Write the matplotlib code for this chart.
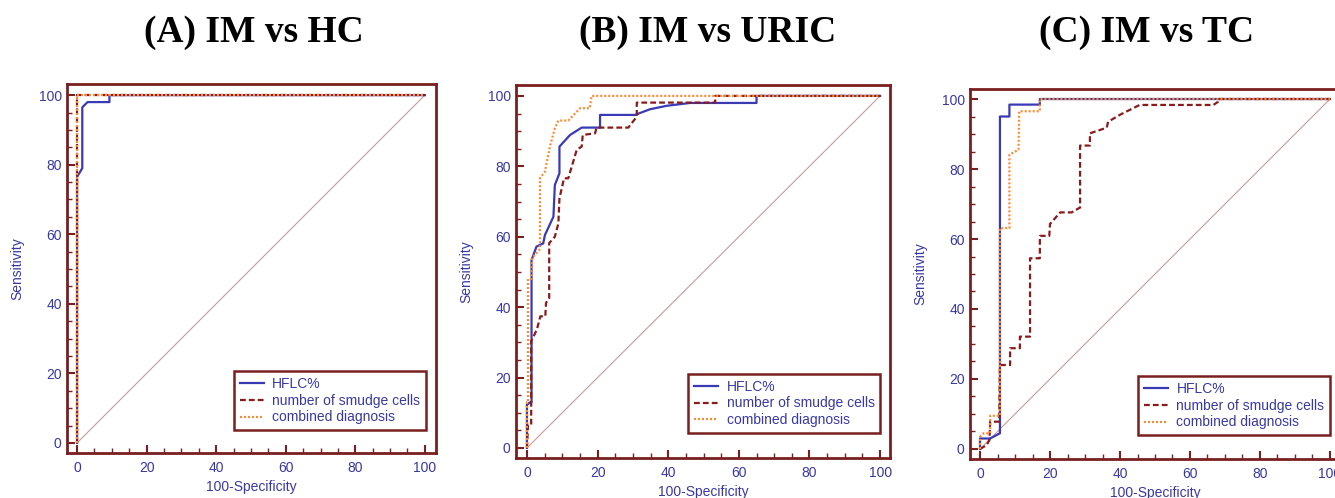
import matplotlib
matplotlib.use("Agg")
import matplotlib.pyplot as plt
from matplotlib.ticker import MultipleLocator

# ---------------- data ----------------
titles = ["(A) IM vs HC", "(B) IM vs URIC", "(C) IM vs TC"]
series_names = ["HFLC%", "number of smudge cells", "combined diagnosis"]

A_hflc_x = [0, 0, 1.5, 1.5, 3, 9.3, 9.3, 100]
A_hflc_y = [0, 76.5, 79, 96.5, 98, 98, 100, 100]
A_smudge_x = [0, 0, 100]
A_smudge_y = [0, 100, 100]
A_comb_x = [0, 0, 100]
A_comb_y = [0, 100, 100]

B_hflc_x = [0, 0, 1, 1.3, 1.3, 2.7, 4.6, 5.1, 7.5, 7.9, 9.2, 9.2, 12.2, 15.5, 20.7, 20.7, 30.6, 34.8, 39.6, 46.2, 65, 65, 100]
B_hflc_y = [0, 12.3, 13, 13, 53.4, 57.2, 58.1, 60.5, 65.7, 74.7, 78, 85.6, 88.9, 91, 91, 94.6, 94.6, 96.2, 97.2, 98, 98, 100, 100]
B_smudge_x = [0, 0.3, 1.2, 1.2, 2.8, 3.8, 5.2, 5.4, 6.3, 6.3, 7.9, 8.9, 9.2, 10.5, 11.7, 14.1, 15.5, 15.8, 19.3, 19.7, 28.7, 31.1, 31.1, 53.3, 53.3, 100]
B_smudge_y = [0, 6.6, 6.6, 30.3, 33.6, 37.4, 37.4, 41.2, 42.6, 58.2, 60, 63.8, 70.9, 76.6, 76.6, 84.7, 85.6, 88.9, 89.4, 91, 91, 94.1, 98.1, 98.1, 100, 100]
B_comb_x = [0, 0, 0.3, 0.3, 1.2, 1.5, 3.7, 3.7, 5.1, 6.5, 7.9, 8.9, 11.7, 14.1, 15, 17.8, 18.3, 100]
B_comb_y = [0, 13, 13, 48, 48, 54, 56.5, 76.6, 78.5, 85.6, 90.8, 93, 93, 95.5, 96.5, 96.5, 100, 100]

C_hflc_x = [0, 0, 2.9, 5.7, 5.7, 8.4, 8.4, 17.1, 17.1, 100]
C_hflc_y = [0, 3, 3, 4.5, 95, 95, 98.4, 98.4, 100, 100]
C_smudge_x = [0, 1.9, 2.7, 2.9, 5.5, 5.7, 8.6, 8.6, 11.4, 11.4, 14.3, 14.3, 17.1, 17.1, 19.8, 20, 22.9, 26.2, 28.6, 28.6, 31.4, 31.4, 36.2, 36.6, 40, 45.6, 66.7, 68, 68, 100]
C_smudge_y = [0, 1.1, 2.6, 7.8, 7.8, 24, 24, 28.8, 28.8, 32.1, 32.1, 54.5, 54.5, 60.9, 60.9, 64.3, 67.6, 67.6, 69, 86.7, 86.7, 90.2, 91.8, 93.5, 95.5, 98.3, 98.3, 99.2, 100, 100]
C_comb_x = [0, 0, 1, 2.9, 2.9, 5.7, 5.7, 8.4, 8.4, 11, 11.2, 17.1, 17.1, 100]
C_comb_y = [0, 3.5, 4.5, 4.5, 9.5, 9.5, 63.1, 63.1, 84.1, 85.5, 96.5, 96.5, 100, 100]

xticks = [0, 20, 40, 60, 80, 100]
yticks = [0, 20, 40, 60, 80, 100]

# ---------------- style ----------------
W, H = 1335, 498
FRAME = "#7a1f1f"
TXT = "#3838a4"
C_HFLC = "#3a3ab4"
C_SM = "#8b1a1a"
C_CB = "#ff8a2e"
DIAG = "#cc9a9a"
plt.rcParams["font.family"] = ["Liberation Sans", "DejaVu Sans"]

fig = plt.figure(figsize=(W / 100, H / 100), dpi=100)

panels = [
    dict(box=(67, 84, 436, 453), xlim=(-2.9, 103.2), ylim=(-2.9, 103.2), leg=(100.3, 3.7),
         data=[(A_hflc_x, A_hflc_y), (A_smudge_x, A_smudge_y), (A_comb_x, A_comb_y)], tx=254),
    dict(box=(516, 85, 890, 458), xlim=(-3.1, 102.8), ylim=(-2.85, 103.1), leg=(100, 4.3),
         data=[(B_hflc_x, B_hflc_y), (B_smudge_x, B_smudge_y), (B_comb_x, B_comb_y)], tx=708),
    dict(box=(970, 89, 1340, 459), xlim=(-2.86, 102.86), ylim=(-2.86, 102.86), leg=(100, 4.0),
         data=[(C_hflc_x, C_hflc_y), (C_smudge_x, C_smudge_y), (C_comb_x, C_comb_y)], tx=1147),
]

for i, p in enumerate(panels):
    l, t, r, b = p["box"]
    ax = fig.add_axes([l / W, (H - b) / H, (r - l) / W, (b - t) / H])
    ax.set_xlim(*p["xlim"])
    ax.set_ylim(*p["ylim"])
    ax.plot([0, 100], [0, 100], color=DIAG, lw=0.8, zorder=1)
    (hx, hy), (sx, sy), (cx, cy) = p["data"]
    ax.plot(hx, hy, color=C_HFLC, lw=1.6, label=series_names[0], zorder=3)
    ax.plot(sx, sy, color=C_SM, lw=1.6, ls=(0, (2.6, 1.4)), label=series_names[1], zorder=4)
    ax.plot(cx, cy, color=C_CB, lw=1.6, ls=(0, (0.9, 0.9)), label=series_names[2], zorder=5)

    for s in ax.spines.values():
        s.set_color(FRAME)
        s.set_linewidth(2.0)
    ax.set_xticks(xticks)
    ax.set_yticks(yticks)
    ax.xaxis.set_minor_locator(MultipleLocator(5))
    ax.yaxis.set_minor_locator(MultipleLocator(5))
    ax.tick_params(which="major", direction="in", length=5.5, width=1.5, color=FRAME,
                   labelcolor=TXT, labelsize=10)
    ax.tick_params(which="minor", direction="in", length=3.3, width=1.0, color=FRAME)
    ax.tick_params(axis="x", which="major", pad=6)
    ax.tick_params(axis="y", which="major", pad=3.8)
    ax.set_xlabel("100-Specificity", color=TXT, fontsize=10)
    ax.set_ylabel("Sensitivity", color=TXT, fontsize=10)
    ax.xaxis.label.set_va("center")
    ax.yaxis.label.set_va("center")
    ax.xaxis.set_label_coords(0.5, -34 / (b - t))
    ax.yaxis.set_label_coords(-50 / (r - l), 0.5)

    leg = ax.legend(loc="lower right", bbox_to_anchor=p["leg"], bbox_transform=ax.transData,
                    borderaxespad=0, fancybox=False, framealpha=1, edgecolor=FRAME,
                    fontsize=10, handlelength=1.75, handletextpad=0.6, labelspacing=0.2,
                    borderpad=0.4)
    leg.get_frame().set_linewidth(1.8)
    for txt in leg.get_texts():
        txt.set_color(TXT)

    fig.text(p["tx"] / W, (H - 42) / H, titles[i], ha="center", va="baseline",
             fontsize=27, fontweight="bold", family=["Liberation Serif", "DejaVu Serif"])

fig.savefig("out.png", dpi=100)
